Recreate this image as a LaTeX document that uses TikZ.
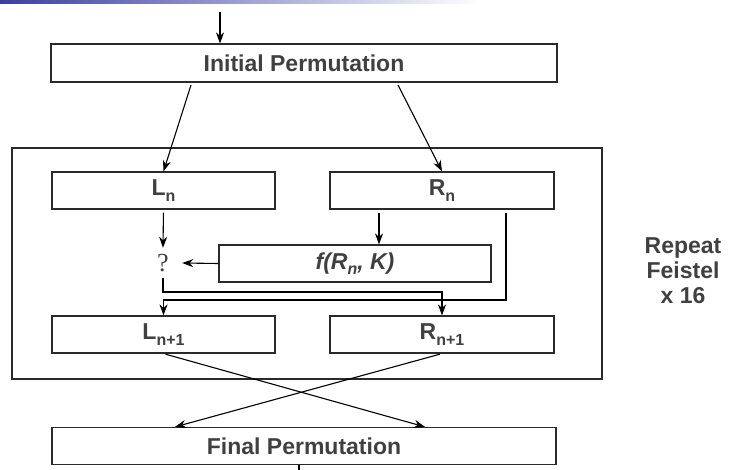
\documentclass[tikz,border=0pt]{standalone}
\usepackage{fontspec}
\setmainfont{Liberation Sans}
\newfontfamily\qfont{Liberation Serif}
\usetikzlibrary{arrows.meta,calc}
\definecolor{txt}{HTML}{404040}
\definecolor{bord}{HTML}{2A2A2A}
\definecolor{bar}{HTML}{3A3F9F}
\newcommand\subs[1]{\raisebox{-5.5pt}{\fontsize{16}{16}\selectfont #1}}
\tikzset{
  box/.style={draw=bord, line width=1.2pt, rectangle, inner sep=0pt, text=txt,
    font=\fontsize{23}{26}\selectfont\bfseries},
  arr/.style={line width=1.1pt, draw=black, -{Stealth[length=11pt,width=8pt,inset=3.5pt]}},
  ln/.style={line width=1.1pt, draw=black},
}
\begin{document}
\begin{tikzpicture}[x=1pt,y=-1pt]
\useasboundingbox (0,0) rectangle (730,470);
\shade[left color=bar, right color=white] (0,0) rectangle (480,4);
% outer repeat box
\node[draw=bord, line width=1.2pt, minimum width=590pt, minimum height=231pt, inner sep=0pt] (outer) at (307,263.5) {};
% boxes
\node[box, minimum width=506pt, minimum height=38pt] (init) at (304,63) {Initial Permutation};
\node[box, minimum width=223pt, minimum height=37pt] (Ln) at (163.5,190.5) {L\subs{n}};
\node[box, minimum width=224pt, minimum height=37pt] (Rn) at (442,190.5) {R\subs{n}};
\node[box, minimum width=272pt, minimum height=37pt] (f) at (355,263.5) {\itshape f(R\subs{n}, K)};
\node[text=txt, font=\qfont\fontsize{26}{26}\selectfont, inner sep=0pt, minimum width=38pt, minimum height=30pt] (q) at (163,263) {?};
\node[box, minimum width=223pt, minimum height=37pt] (Ln1) at (163.5,334.5) {L\subs{n+1}};
\node[box, minimum width=224pt, minimum height=37pt] (Rn1) at (442,334.5) {R\subs{n+1}};
\node[box, minimum width=504pt, minimum height=37pt] (fin) at (304,446) {Final Permutation};
\node[text=txt, font=\fontsize{23}{25}\selectfont\bfseries, align=center, inner sep=0pt] (rep) at (683,271) {Repeat\\Feistel\\x 16};
% coordinates
\coordinate (top) at (220,12);
\coordinate (s1) at (191,85);
\coordinate (s2) at (398,85);
\coordinate (c379) at (379,0);
\coordinate (c506) at (506,0);
\coordinate (j1) at (300,292);
\coordinate (j2) at (300,300);
\coordinate (c425) at (425,0);
\coordinate (c175) at (175,0);
\coordinate (c299) at (299,0);
\coordinate (bot) at (299,470);
% connectors
\draw[arr] (top) -- (top |- init.north);
\draw[arr] (s1) -- (Ln.north);
\draw[arr] (s2) -- (Rn.north);
\draw[arr, shorten <=3pt] (Ln.south) -- (q.north);
\draw[arr, shorten <=3pt] (Rn.south -| c379) -- (f.north -| c379);
\draw[arr] (f.west) -- (q.east);
\draw[arr] (q.south) |- (j1) -| (Rn1.north);
\draw[arr, shorten <=3pt] (Rn.south -| c506) |- (j2) -| (Ln1.north);
\draw[arr, shorten <=2pt] (Ln1.south) -- (fin.north -| c425);
\draw[arr, shorten <=2pt] (Rn1.south) -- (fin.north -| c175);
\draw[ln] (fin.south -| c299) -- (bot);
\end{tikzpicture}
\end{document}
